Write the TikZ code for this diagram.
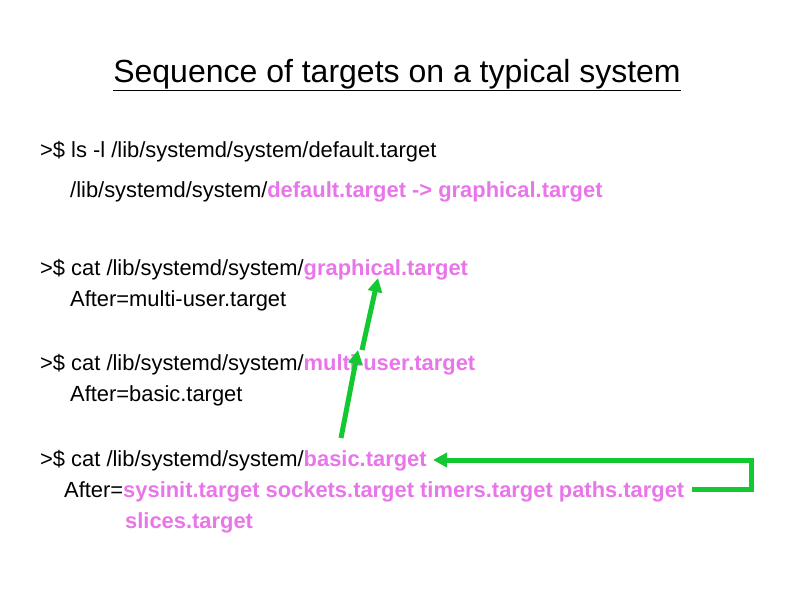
\documentclass[tikz,border=0pt]{standalone}
\usepackage{fontspec}
\setmainfont{Liberation Sans}
\usetikzlibrary{arrows.meta}
\definecolor{pk}{RGB}{232,118,232}
\definecolor{gr}{RGB}{20,200,50}
\newcommand{\pkb}[1]{\textcolor{pk}{\bfseries #1}}
\begin{document}
\begin{tikzpicture}[x=1pt,y=-1pt,
  ln/.style={anchor=west,inner sep=0pt,font=\fontsize{21.9}{24}\selectfont},
  garrow/.style={draw=gr,line width=5pt,-{Triangle[width=14pt,length=14pt]}}]
\useasboundingbox (0,0) rectangle (794,595);
\node[anchor=center,inner sep=0pt,font=\fontsize{32}{36}\selectfont] (title) at (397,75) {\underline{Sequence of targets on a typical system}};
\node[ln] (l1) at (40,152) {>\$ ls -l /lib/systemd/system/default.target};
\node[ln] (l2) at (70,192) {/lib/systemd/system/\pkb{default.target -> graphical.target}};
\node[ln] (l3) at (40,270) {>\$ cat /lib/systemd/system/\pkb{graphical.target}};
\node[ln] (l4) at (70,301) {After=multi-user.target};
\node[ln] (l5) at (40,365) {>\$ cat /lib/systemd/system/\pkb{multi-user.target}};
\node[ln] (l6) at (70,396) {After=basic.target};
\node[ln] (l7) at (40,461) {>\$ cat /lib/systemd/system/\pkb{basic.target}};
\node[ln] (l8) at (64,492) {After=\pkb{sysinit.target sockets.target timers.target paths.target}};
\node[ln] (l9) at (125,523) {\pkb{slices.target}};
\coordinate (a1s) at (341,438);
\coordinate (a1e) at (358,350);
\coordinate (a2s) at (362,350);
\coordinate (a2e) at (378,278);
\coordinate (a3s) at (692,489);
\coordinate (a3e) at (433,460);
\draw[garrow] (a1s) -- (a1e);
\draw[garrow] (a2s) -- (a2e);
\draw[garrow] (a3s) -- (751,489) -- (751,460) -- (a3e);
\end{tikzpicture}
\end{document}
